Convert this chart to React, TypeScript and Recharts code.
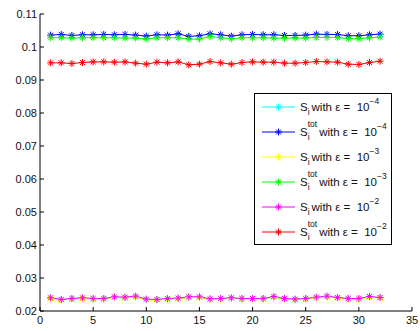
import { LineChart, Line, XAxis, YAxis, Legend } from "recharts";

const FONT = '"Liberation Sans", Arial, Helvetica, sans-serif';

const steps = [1, 2, 3, 4, 5, 6, 7, 8, 9, 10, 11, 12, 13, 14, 15, 16, 17, 18, 19, 20, 21, 22, 23, 24, 25, 26, 27, 28, 29, 30, 31, 32];

// first order / total indices for each epsilon
const siEps4 = [0.0239, 0.0234, 0.0237, 0.0238, 0.0237, 0.0237, 0.0241, 0.024, 0.0243, 0.0235, 0.0234, 0.0236, 0.0238, 0.0241, 0.0242, 0.0236, 0.0237, 0.0239, 0.0237, 0.0237, 0.0237, 0.0242, 0.0236, 0.0235, 0.0237, 0.024, 0.0243, 0.024, 0.0237, 0.0236, 0.0242, 0.024];
const stotEps4 = [0.1036, 0.1038, 0.1035, 0.1037, 0.1037, 0.1038, 0.1037, 0.1038, 0.1036, 0.1033, 0.1037, 0.1036, 0.104, 0.1032, 0.1034, 0.104, 0.1037, 0.1033, 0.1037, 0.1038, 0.1037, 0.1037, 0.1035, 0.1035, 0.1036, 0.1039, 0.1038, 0.1038, 0.1034, 0.1034, 0.1037, 0.1039];
const siEps3 = [0.0238, 0.0233, 0.0236, 0.0238, 0.0236, 0.0236, 0.0241, 0.024, 0.0242, 0.0234, 0.0233, 0.0236, 0.0237, 0.0241, 0.0241, 0.0235, 0.0236, 0.0238, 0.0236, 0.0236, 0.0236, 0.0242, 0.0236, 0.0234, 0.0236, 0.024, 0.0242, 0.0239, 0.0236, 0.0236, 0.0241, 0.0239];
const stotEps3 = [0.1028, 0.1028, 0.1027, 0.1028, 0.1028, 0.1028, 0.1028, 0.1027, 0.1027, 0.1024, 0.1028, 0.1028, 0.1028, 0.1024, 0.1024, 0.1032, 0.1028, 0.1025, 0.1028, 0.1028, 0.1028, 0.1027, 0.1027, 0.1027, 0.1027, 0.1029, 0.1029, 0.1029, 0.1025, 0.1025, 0.1028, 0.103];
const siEps2 = [0.024, 0.0235, 0.0238, 0.024, 0.0238, 0.0238, 0.0243, 0.0242, 0.0245, 0.0236, 0.0235, 0.0238, 0.0239, 0.0243, 0.0243, 0.0237, 0.0238, 0.024, 0.0238, 0.0238, 0.0238, 0.0244, 0.0238, 0.0236, 0.0238, 0.0242, 0.0245, 0.0241, 0.0238, 0.0238, 0.0244, 0.0241];
const stotEps2 = [0.0952, 0.0952, 0.095, 0.0953, 0.0955, 0.0955, 0.0954, 0.0955, 0.0951, 0.0948, 0.0954, 0.0952, 0.0955, 0.0946, 0.0948, 0.0956, 0.0952, 0.0948, 0.0953, 0.0955, 0.0954, 0.0954, 0.0951, 0.0951, 0.0953, 0.0956, 0.0955, 0.0954, 0.0948, 0.0947, 0.0953, 0.0957];

const xTicks = [0, 5, 10, 15, 20, 25, 30, 35];
const yTicks = [0.02, 0.03, 0.04, 0.05, 0.06, 0.07, 0.08, 0.09, 0.1, 0.11];

const series = [
  { key: "siEps4", values: siEps4, color: "#00ffff", tot: false, exp: "−4" },
  { key: "stotEps4", values: stotEps4, color: "#0000ff", tot: true, exp: "−4" },
  { key: "siEps3", values: siEps3, color: "#ffff00", tot: false, exp: "−3" },
  { key: "stotEps3", values: stotEps3, color: "#00ff00", tot: true, exp: "−3" },
  { key: "siEps2", values: siEps2, color: "#ff00ff", tot: false, exp: "−2" },
  { key: "stotEps2", values: stotEps2, color: "#ff0000", tot: true, exp: "−2" },
];

const data = steps.map((x, i) => {
  const row: Record<string, number> = { x };
  series.forEach((s) => (row[s.key] = s.values[i]));
  return row;
});

function Star({ cx, cy, stroke }: any) {
  if (cx == null || cy == null) return null;
  const r = 3.5;
  const d = r * 0.7071;
  return (
    <g stroke={stroke} strokeWidth={1}>
      <line x1={cx - r} y1={cy} x2={cx + r} y2={cy} />
      <line x1={cx} y1={cy - r} x2={cx} y2={cy + r} />
      <line x1={cx - d} y1={cy - d} x2={cx + d} y2={cy + d} />
      <line x1={cx - d} y1={cy + d} x2={cx + d} y2={cy - d} />
    </g>
  );
}

function LegendBox() {
  return (
    <div style={{ border: "1px solid #000", background: "#fff", width: 136, fontFamily: FONT, fontSize: 11.5, color: "#111" }}>
      {series.map((s) => (
        <div key={s.key} style={{ height: 25, display: "flex", alignItems: "center" }}>
          <svg width={33} height={10} style={{ marginLeft: 7 }}>
            <line x1={0} y1={5} x2={33} y2={5} stroke={s.color} strokeWidth={1} />
            <Star cx={16.5} cy={5} stroke={s.color} />
          </svg>
          <span style={{ marginLeft: 5, whiteSpace: "nowrap", display: "flex", alignItems: "center" }}>
            <span>S</span>
            {s.tot ? (
              <span style={{ display: "inline-flex", flexDirection: "column", fontSize: 8.5, lineHeight: "9px", marginTop: 1 }}>
                <span style={{ position: "relative", top: -3 }}>tot</span>
                <span style={{ position: "relative", top: 1 }}>i</span>
              </span>
            ) : (
              <span style={{ fontSize: 8.5, position: "relative", top: 5 }}>i</span>
            )}
            <span style={{ marginLeft: 2 }}>with ε =&nbsp;&nbsp;10</span>
            <span style={{ fontSize: 8.5, position: "relative", top: -6 }}>{s.exp}</span>
          </span>
        </div>
      ))}
    </div>
  );
}

const fmt = (v: number) => String(Number(v.toFixed(2)));

export default function App() {
  const tickStyle = { fill: "#111", fontSize: 11, fontFamily: FONT };
  return (
    <div style={{ position: "absolute", left: 0, top: 0, background: "#fff" }}>
      <LineChart width={420} height={331} data={data} margin={{ top: 14, right: 8, bottom: 0, left: 0 }}>
        <XAxis dataKey="x" type="number" domain={[0, 35]} ticks={xTicks} interval={0} height={20}
          tickSize={-4} tickMargin={9} axisLine={{ stroke: "#000" }} tickLine={{ stroke: "#000" }} tick={tickStyle} />
        <XAxis xAxisId="top" orientation="top" dataKey="x" type="number" domain={[0, 35]} ticks={xTicks} interval={0}
          height={0} allowDataOverflow tickSize={-4} axisLine={{ stroke: "#000" }} tickLine={{ stroke: "#000" }} tick={false} />
        <YAxis type="number" domain={[0.02, 0.11]} ticks={yTicks} interval={0} width={40} tickFormatter={fmt}
          tickSize={-4} tickMargin={7} axisLine={{ stroke: "#000" }} tickLine={{ stroke: "#000" }} tick={tickStyle} />
        <YAxis yAxisId="right" orientation="right" type="number" domain={[0.02, 0.11]} ticks={yTicks} interval={0}
          width={0} allowDataOverflow tickSize={-4} axisLine={{ stroke: "#000" }} tickLine={{ stroke: "#000" }} tick={false} />
        <Legend layout="vertical" align="center" verticalAlign="middle" content={<LegendBox />}
          wrapperStyle={{ left: 254, top: 93, width: 138, height: "auto" }} />
        {series.map((s) => (
          <Line key={s.key} dataKey={s.key} stroke={s.color} strokeWidth={1} isAnimationActive={false}
            dot={(p: any) => <Star key={p.index} cx={p.cx} cy={p.cy} stroke={s.color} />} activeDot={false} />
        ))}
      </LineChart>
    </div>
  );
}
